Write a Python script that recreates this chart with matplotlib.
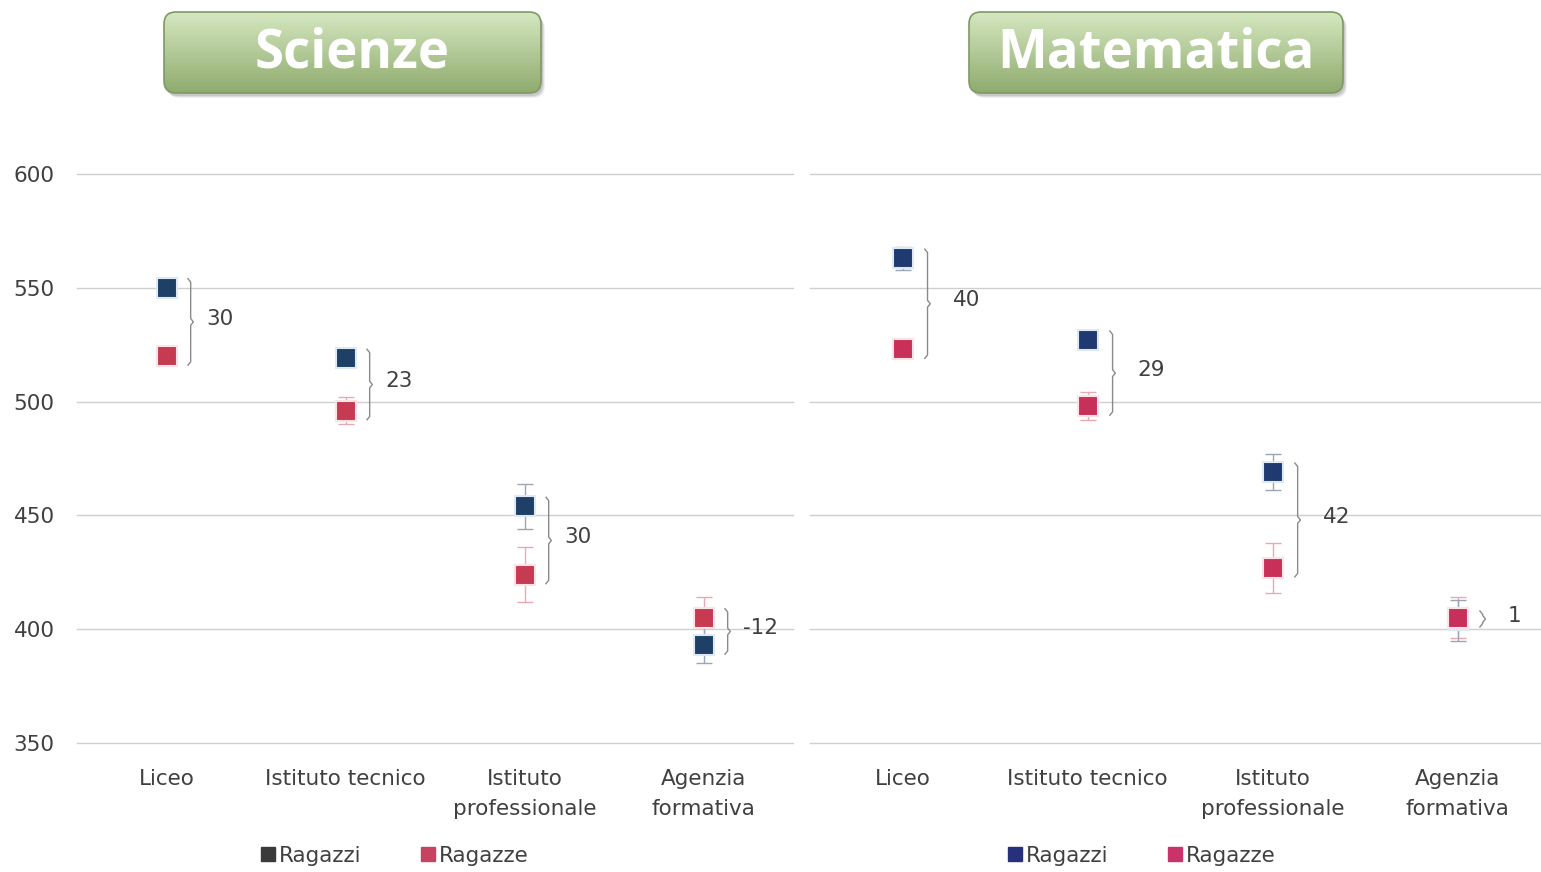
import numpy as np
import matplotlib
matplotlib.use("Agg")
import matplotlib.pyplot as plt
from matplotlib.patches import FancyBboxPatch
from matplotlib.lines import Line2D

# ---------------------------------------------------------
# Dati
# ---------------------------------------------------------
categories = ["Liceo", "Istituto tecnico", "Istituto\nprofessionale", "Agenzia\nformativa"]

sci_ragazzi = [550, 519, 454, 393]
sci_ragazze = [520, 496, 424, 405]
sci_err_ragazzi = [3, 4, 10, 8]
sci_err_ragazze = [3, 6, 12, 9]
sci_diff = ["30", "23", "30", "-12"]

mat_ragazzi = [563, 527, 469, 404]
mat_ragazze = [523, 498, 427, 405]
mat_err_ragazzi = [5, 4, 8, 9]
mat_err_ragazze = [4, 6, 11, 9]
mat_diff = ["40", "29", "42", "1"]

yticks = [350, 400, 450, 500, 550, 600]

W, H = 1541, 872
TXT = "#404040"

fig = plt.figure(figsize=(W / 100, H / 100), dpi=100)


def px_rect(x0, y0, x1, y1):
    # box in pixel (origine in alto a sinistra) -> frazione figura
    return [x0 / W, 1 - y1 / H, (x1 - x0) / W, (y1 - y0) / H]


def brace(ax, x, y_top, y_bot, d=0.015, s=1.5):
    mid = (y_top + y_bot) / 2
    xs = [x, x + d, x + d, x + 2 * d, x + d, x + d, x]
    ys = [y_top, y_top - s, mid + s, mid, mid - s, y_bot + s, y_bot]
    ax.plot(xs, ys, color="#8a8a8a", lw=1.0, zorder=2)


def panel(ax, rag, raz, err_rag, err_raz, diffs, c_rag, c_raz, xmax, show_y,
          lab_off, girls_on_top):
    x = np.arange(len(categories))
    ax.set_ylim(350, 600)
    ax.set_xlim(-0.5, xmax)
    ax.set_yticks(yticks)
    for v in yticks:
        ax.axhline(v, color="#cfcfcf", lw=1.0, clip_on=False, zorder=0)
    for sp in ax.spines.values():
        sp.set_visible(False)
    ax.set_xticks(x)
    ax.set_xticklabels(categories, fontsize=15.5, color=TXT, linespacing=1.6)
    ax.tick_params(axis="x", length=0, pad=19)
    ax.tick_params(axis="y", length=0, pad=16, labelsize=15.5, labelcolor=TXT)
    if not show_y:
        ax.set_yticklabels([])

    z_raz, z_rag = (5, 4) if girls_on_top else (4, 5)
    ax.errorbar(x, raz, yerr=err_raz, fmt="none", ecolor="#e9a9b4", elinewidth=1,
                capsize=6, capthick=1, zorder=3)
    ax.errorbar(x, rag, yerr=err_rag, fmt="none", ecolor="#9aa6b8", elinewidth=1,
                capsize=6, capthick=1, zorder=3)
    ax.plot(x, raz, "s", ms=15, color=c_raz, mec="#fbe3e6", mew=1.5, zorder=z_raz)
    ax.plot(x, rag, "s", ms=15, color=c_rag, mec="#dfe8f5", mew=1.5, zorder=z_rag)

    for i in range(len(categories)):
        top = max(rag[i], raz[i]) + 4
        bot = min(rag[i], raz[i]) - 4
        if abs(rag[i] - raz[i]) < 3:
            top, bot = top - 1, bot + 1
        brace(ax, x[i] + 0.12, top, bot)
        ax.text(x[i] + lab_off, (top + bot) / 2 + 1.5, diffs[i], fontsize=15.5,
                color=TXT, ha="left", va="center")


ax1 = fig.add_axes(px_rect(77, 174, 793, 743))
panel(ax1, sci_ragazzi, sci_ragazze, sci_err_ragazzi, sci_err_ragazze, sci_diff,
      "#1e3f66", "#c63a52", 3.5, True, 0.22, False)

ax2 = fig.add_axes(px_rect(810, 174, 1541, 743))
panel(ax2, mat_ragazzi, mat_ragazze, mat_err_ragazzi, mat_err_ragazze, mat_diff,
      "#1f3a70", "#c8305a", 3.45, False, 0.27, True)


# legende
def legend(cx, c_rag, c_raz):
    handles = [Line2D([], [], ls="none", marker="s", ms=10, color=c_rag),
               Line2D([], [], ls="none", marker="s", ms=10, color=c_raz)]
    fig.legend(handles, ["Ragazzi", "Ragazze"], loc="center", ncol=2,
               bbox_to_anchor=(cx / W, 1 - 856 / H), frameon=False,
               fontsize=15.5, labelcolor=TXT, handletextpad=0.0,
               columnspacing=2.6, handlelength=1.0)


legend(393, "#3a3a3a", "#c8435f")
legend(1140, "#27307a", "#c8336a")


# titoli in box verde
def title_box(x0, y0, w, h, text):
    m = 10
    ax = fig.add_axes(px_rect(x0 - m, y0 - m, x0 + w + m, y0 + h + m))
    ax.set_xlim(-m, w + m)
    ax.set_ylim(-m, h + m)
    ax.axis("off")
    for k, a in enumerate([0.10, 0.08, 0.06]):
        sh = FancyBboxPatch((2 + k, -3 - k), w, h, boxstyle="round,pad=0,rounding_size=12",
                            fc="#000000", ec="none", alpha=a)
        ax.add_patch(sh)
    grad = np.linspace(0, 1, 256).reshape(-1, 1)
    top = np.array([0.84, 0.91, 0.76])
    bot = np.array([0.56, 0.67, 0.43])
    img = top + (bot - top) * grad[:, :, None]
    box = FancyBboxPatch((0, 0), w, h, boxstyle="round,pad=0,rounding_size=12",
                         fc="none", ec="#7d9a62", lw=1.2)
    ax.add_patch(box)
    im = ax.imshow(img, extent=(0, w, 0, h), aspect="auto", origin="upper", zorder=1)
    im.set_clip_path(box)
    box.set_zorder(2)
    ax.text(w / 2, h / 2 - 1, text, ha="center", va="center", color="white",
            fontsize=38, fontweight="bold", family="Open Sans", zorder=3)


title_box(164, 12, 377, 81, "Scienze")
title_box(969, 12, 374, 81, "Matematica")

fig.savefig("out.png", dpi=100)
